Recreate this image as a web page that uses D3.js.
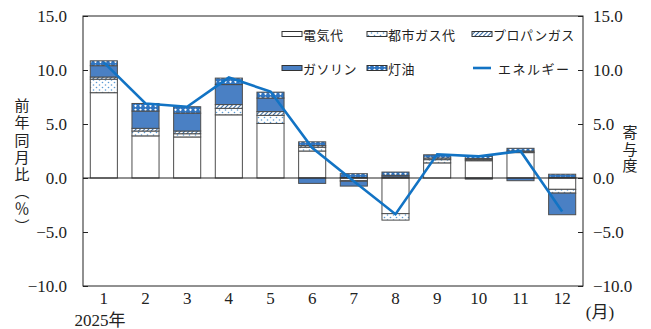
<!DOCTYPE html>
<html>
<head>
<meta charset="utf-8">
<script src="https://cdn.jsdelivr.net/npm/d3@7"></script>
<style>
  body { margin: 0; background: #fff; }
  text { font-family: "Liberation Serif", "Noto Sans CJK JP", serif; fill: #222; }
  .jp { font-family: "Noto Sans CJK JP", sans-serif; }
  .vert { writing-mode: vertical-rl; }
</style>
</head>
<body>
<svg id="chart" width="651" height="329"></svg>
<script>
// months and series (percentage points)
const months = [1, 2, 3, 4, 5, 6, 7, 8, 9, 10, 11, 12];
const denki   = [7.9, 3.9, 3.8, 5.85, 5.05, 2.5, -0.25, -3.3, 1.4, 1.6, 2.35, -1.05];
const toshiGas = [1.25, 0.45, 0.3, 0.6, 0.75, 0.35, -0.05, -0.6, 0.3, 0.1, 0.05, -0.35];
const propane = [0.2, 0.25, 0.25, 0.35, 0.35, 0.15, 0.05, 0.1, 0.15, 0.1, 0.1, 0.05];
const gasoline = [1.05, 1.6, 1.65, 1.85, 1.25, -0.5, -0.45, 0.15, 0.0, -0.1, -0.25, -2.0];
const touyu  = [0.45, 0.7, 0.6, 0.6, 0.55, 0.35, 0.35, 0.3, 0.3, 0.2, 0.25, 0.3];
const energy = [10.7, 6.9, 6.6, 9.3, 8.0, 2.8, -0.3, -3.35, 2.2, 2.0, 2.5, -3.1];
const yTicks = [-10, -5, 0, 5, 10, 15];

const keys = ['denki', 'toshiGas', 'propane', 'gasoline', 'touyu'];
const labels = { denki: '電気代', toshiGas: '都市ガス代', propane: 'プロパンガス', gasoline: 'ガソリン', touyu: '灯油' };

const rows = months.map((m, i) => ({
  month: m, denki: denki[i], toshiGas: toshiGas[i], propane: propane[i],
  gasoline: gasoline[i], touyu: touyu[i], energy: energy[i]
}));

const svg = d3.select('#chart');
const margin = { top: 16, right: 68, bottom: 43, left: 83 };
const W = 651, H = 329;
const width = W - margin.left - margin.right;
const height = H - margin.top - margin.bottom;

// patterns
const defs = svg.append('defs');
const dots = defs.append('pattern').attr('id', 'p-dots').attr('patternUnits', 'userSpaceOnUse')
  .attr('width', 6).attr('height', 5);
dots.append('rect').attr('width', 6).attr('height', 5).attr('fill', '#fff');
dots.append('circle').attr('cx', 1.5).attr('cy', 1.5).attr('r', 0.8).attr('fill', '#5b9bd5');
dots.append('circle').attr('cx', 4.5).attr('cy', 4).attr('r', 0.8).attr('fill', '#5b9bd5');

const hatch = defs.append('pattern').attr('id', 'p-hatch').attr('patternUnits', 'userSpaceOnUse')
  .attr('width', 3).attr('height', 3).attr('patternTransform', 'rotate(45)');
hatch.append('rect').attr('width', 3).attr('height', 3).attr('fill', '#fff');
hatch.append('line').attr('x1', 0).attr('y1', 0).attr('x2', 0).attr('y2', 3)
  .attr('stroke', '#1d5896').attr('stroke-width', 1.8);

const cross = defs.append('pattern').attr('id', 'p-cross').attr('patternUnits', 'userSpaceOnUse')
  .attr('width', 5).attr('height', 4);
cross.append('rect').attr('width', 5).attr('height', 4).attr('fill', '#2f74c0');
cross.append('rect').attr('x', 1.5).attr('y', 0.8).attr('width', 2).attr('height', 2)
  .attr('fill', '#fff').attr('transform', 'rotate(45 2.5 1.8)');

const fills = {
  denki: '#ffffff', toshiGas: 'url(#p-dots)', propane: 'url(#p-hatch)',
  gasoline: '#4a80c4', touyu: 'url(#p-cross)'
};

const g = svg.append('g').attr('transform', `translate(${margin.left},${margin.top})`);

const x = d3.scaleBand().domain(months).range([0, width]).paddingInner(0.35).paddingOuter(0.175);
const y = d3.scaleLinear().domain([-10, 15]).range([height, 0]);

const series = d3.stack().keys(keys).offset(d3.stackOffsetDiverging)(rows);

// bars
g.selectAll('g.layer').data(series).join('g')
  .attr('class', 'layer')
  .attr('fill', d => fills[d.key])
  .selectAll('rect').data(d => d).join('rect')
    .attr('x', d => x(d.data.month))
    .attr('width', x.bandwidth())
    .attr('y', d => y(Math.max(d[0], d[1])))
    .attr('height', d => Math.abs(y(d[0]) - y(d[1])))
    .attr('stroke', '#4d4d4d')
    .attr('stroke-width', 1);

// zero line
g.append('line').attr('x1', 0).attr('x2', width).attr('y1', y(0)).attr('y2', y(0))
  .attr('stroke', '#222').attr('stroke-width', 1);

// energy line
g.append('path').datum(rows)
  .attr('fill', 'none').attr('stroke', '#1273c4').attr('stroke-width', 2.6)
  .attr('d', d3.line().x(d => x(d.month) + x.bandwidth() / 2).y(d => y(d.energy)));

// frame
g.append('rect').attr('width', width).attr('height', height)
  .attr('fill', 'none').attr('stroke', '#222').attr('stroke-width', 1);

// axes
const fmt = d3.format('.1f');
const yl = g.append('g').call(d3.axisLeft(y).tickValues(yTicks).tickFormat(fmt)
  .tickSizeInner(-5).tickSizeOuter(0).tickPadding(16));
const yr = g.append('g').attr('transform', `translate(${width},0)`)
  .call(d3.axisRight(y).tickValues(yTicks).tickFormat(fmt)
  .tickSizeInner(-5).tickSizeOuter(0).tickPadding(10));
const xb = g.append('g').attr('transform', `translate(0,${height})`)
  .call(d3.axisBottom(x).tickSize(0).tickPadding(6));
[yl, yr, xb].forEach(a => {
  a.select('.domain').remove();
  a.selectAll('line').attr('stroke', '#222');
  a.selectAll('text').attr('font-size', 17).attr('fill', '#222')
    .style('font-family', '"Liberation Serif", serif');
});

// extra x labels
svg.append('text').attr('x', 100).attr('y', 326).attr('text-anchor', 'middle')
  .attr('font-size', 17).text('2025年');
svg.append('text').attr('x', 600).attr('y', 318).attr('text-anchor', 'middle')
  .attr('font-size', 17).text('(月)');

// vertical axis titles
svg.append('text').attr('class', 'jp vert')
  .attr('x', 22).attr('y', 98)
  .attr('font-size', 15).attr('letter-spacing', 2.2)
  .text('前年同月比（％）');

svg.append('text').attr('class', 'jp vert')
  .attr('x', 630).attr('y', 125)
  .attr('font-size', 15).attr('letter-spacing', 1.5)
  .text('寄与度');

// legend
const legendItems = [
  { key: 'denki', x: 282, y: 34 }, { key: 'toshiGas', x: 367, y: 34 }, { key: 'propane', x: 472, y: 34 },
  { key: 'gasoline', x: 282, y: 68 }, { key: 'touyu', x: 367, y: 68 }, { key: 'energy', x: 472, y: 68 }
];
const lg = svg.append('g').selectAll('g').data(legendItems).join('g')
  .attr('transform', d => `translate(${d.x},${d.y})`);
lg.filter(d => d.key !== 'energy').append('rect')
  .attr('x', 0).attr('y', -2.5).attr('width', 20).attr('height', 5)
  .attr('fill', d => fills[d.key]).attr('stroke', '#333').attr('stroke-width', 1);
lg.filter(d => d.key === 'energy').append('line')
  .attr('x1', 1).attr('x2', 19).attr('y1', 0).attr('y2', 0)
  .attr('stroke', '#1273c4').attr('stroke-width', 2.6);
lg.append('text').attr('class', 'jp')
  .attr('x', d => d.key === 'energy' ? 26 : 21).attr('y', 0)
  .attr('dominant-baseline', 'central').attr('font-size', 13)
  .attr('letter-spacing', d => d.key === 'energy' ? 1.5 : 0.5)
  .text(d => d.key === 'energy' ? 'エネルギー' : labels[d.key]);
</script>
</body>
</html>
